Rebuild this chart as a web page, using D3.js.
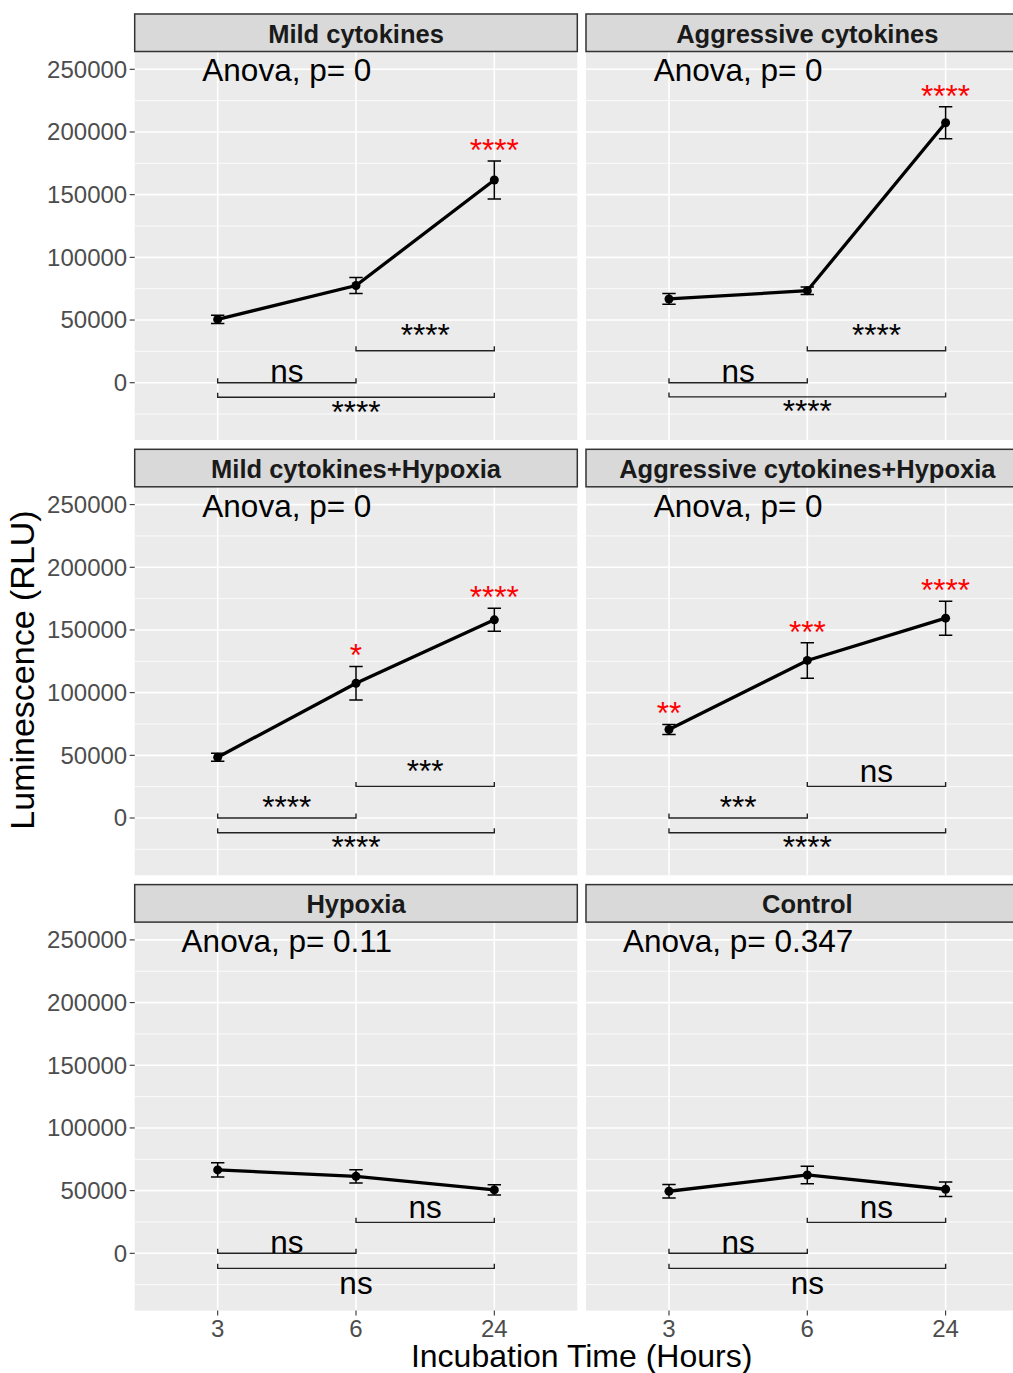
<!DOCTYPE html>
<meta charset="utf-8">
<style>
body { margin: 0; background: #fff; }
text { font-family: "Liberation Sans", Arial, sans-serif; }
</style>
<body>
<svg id="chart" width="1013" height="1373"></svg>
<script src="https://d3js.org/d3.v7.min.js"></script>
<script>

// chart data
var panels = ["Mild cytokines", "Aggressive cytokines", "Mild cytokines+Hypoxia",
              "Aggressive cytokines+Hypoxia", "Hypoxia", "Control"];
var times = ["3", "6", "24"];
var means = [
  [50500, 77500, 161700],
  [66800, 73400, 207400],
  [48500, 107500, 158100],
  [70600, 125700, 159400],
  [66500, 61400, 50600],
  [49500, 62500, 51100]
];
var errors = [
  [3300, 6400, 15200],
  [4300, 3000, 12800],
  [3200, 13400, 9200],
  [4000, 14200, 13600],
  [5700, 5300, 4000],
  [5300, 7000, 5800]
];
var anovaP = ["0", "0", "0", "0", "0.11", "0.347"];
var vsControl = [
  ["", "", "****"],
  ["", "", "****"],
  ["", "*", "****"],
  ["**", "***", "****"],
  ["", "", ""],
  ["", "", ""]
];
// brackets: 3 vs 6, 6 vs 24, 3 vs 24
var pairs = [["3", "6"], ["6", "24"], ["3", "24"]];
var pairLabels = [
  ["ns", "****", "****"],
  ["ns", "****", "****"],
  ["****", "***", "****"],
  ["***", "ns", "****"],
  ["ns", "ns", "ns"],
  ["ns", "ns", "ns"]
];
var pairY = [
  [0, 25500, -11600],
  [0, 25500, -11300],
  [0, 25200, -11800],
  [0, 25200, -11800],
  [0, 24700, -12000],
  [0, 24700, -12000]
];
var yTicks = [0, 50000, 100000, 150000, 200000, 250000];
var yMinor = [-25000, 25000, 75000, 125000, 175000, 225000];
var anovaY = 250000;

var svg = d3.select("#chart");

var panelW = 442.6, gapX = 8.7,
    stripH = 37.5, plotH = 388.5, gapY = 9.3,
    leftX = 134.7, topY = 14;

var labelFont = 31.5;

panels.forEach(function(name, i) {
  var col = i % 2, row = Math.floor(i / 2);
  var x0 = leftX + col * (panelW + gapX);
  var sTop = topY + row * (stripH + plotH + gapY);
  var pTop = sTop + stripH, pBot = pTop + plotH;

  var x = d3.scalePoint().domain(times).range([x0, x0 + panelW]).padding(0.6);
  var y = d3.scaleLinear().domain([-45700, 264200]).range([pBot, pTop]);

  var g = svg.append("g");

  // panel background and grid
  g.append("rect").attr("x", x0).attr("y", pTop).attr("width", panelW).attr("height", plotH)
    .attr("fill", "#EBEBEB");
  g.selectAll(".minor").data(yMinor).enter().append("line")
    .attr("x1", x0).attr("x2", x0 + panelW)
    .attr("y1", function(d) { return y(d); }).attr("y2", function(d) { return y(d); })
    .attr("stroke", "#fff").attr("stroke-width", 0.8);
  g.selectAll(".major").data(yTicks).enter().append("line")
    .attr("x1", x0).attr("x2", x0 + panelW)
    .attr("y1", function(d) { return y(d); }).attr("y2", function(d) { return y(d); })
    .attr("stroke", "#fff").attr("stroke-width", 1.6);
  g.selectAll(".vgrid").data(times).enter().append("line")
    .attr("x1", function(d) { return x(d); }).attr("x2", function(d) { return x(d); })
    .attr("y1", pTop).attr("y2", pBot)
    .attr("stroke", "#fff").attr("stroke-width", 1.6);

  // strip
  g.append("rect").attr("x", x0).attr("y", sTop).attr("width", panelW).attr("height", stripH)
    .attr("fill", "#D9D9D9").attr("stroke", "#333").attr("stroke-width", 1.5);
  g.append("text").attr("x", x0 + panelW / 2).attr("y", sTop + 28.5)
    .attr("text-anchor", "middle").attr("font-size", 25.5).attr("font-weight", "bold")
    .attr("fill", "#1A1A1A").text(name);

  // comparison brackets
  var tipDir = 4.5;
  var labelShift = [-0.5, -4.5, 25.5];
  pairs.forEach(function(p, k) {
    var by = y(pairY[i][k]), xa = x(p[0]), xb = x(p[1]);
    g.append("path")
      .attr("d", "M" + xa + "," + (by - tipDir) + "V" + by + "H" + xb + "V" + (by - tipDir))
      .attr("fill", "none").attr("stroke", "#222").attr("stroke-width", 1.4);
    g.append("text").attr("x", (xa + xb) / 2).attr("y", by + labelShift[k])
      .attr("text-anchor", "middle").attr("font-size", labelFont).attr("fill", "#000")
      .text(pairLabels[i][k]);
  });

  var pts = times.map(function(t, j) { return {t: t, m: means[i][j], e: errors[i][j], s: vsControl[i][j]}; });

  // mean line
  g.append("path").datum(pts)
    .attr("d", d3.line().x(function(d) { return x(d.t); }).y(function(d) { return y(d.m); }))
    .attr("fill", "none").attr("stroke", "#000").attr("stroke-width", 3.3);

  // error bars
  var cap = 6.7;
  pts.forEach(function(d) {
    var cx = x(d.t), yh = y(d.m + d.e), yl = y(d.m - d.e);
    g.append("path")
      .attr("d", "M" + (cx - cap) + "," + yh + "H" + (cx + cap) + "M" + cx + "," + yh + "V" + yl +
                 "M" + (cx - cap) + "," + yl + "H" + (cx + cap))
      .attr("fill", "none").attr("stroke", "#000").attr("stroke-width", 1.5);
  });

  g.selectAll(".pt").data(pts).enter().append("circle")
    .attr("cx", function(d) { return x(d.t); }).attr("cy", function(d) { return y(d.m); })
    .attr("r", 4.5).attr("fill", "#000");

  // significance vs control
  g.selectAll(".sig").data(pts).enter().append("text")
    .attr("x", function(d) { return x(d.t); }).attr("y", function(d) { return y(d.m + d.e); })
    .attr("text-anchor", "middle").attr("font-size", labelFont).attr("fill", "#FF0000")
    .text(function(d) { return d.s; });

  // anova label, centred between 3 and 6
  g.append("text").attr("x", (x("3") + x("6")) / 2).attr("y", y(anovaY) + 12)
    .attr("text-anchor", "middle").attr("font-size", labelFont).attr("fill", "#000")
    .text("Anova, p= " + anovaP[i]);

  // y axis on left column
  if (col === 0) {
    var ya = g.append("g");
    yTicks.forEach(function(v) {
      ya.append("line").attr("x1", x0 - 5).attr("x2", x0).attr("y1", y(v)).attr("y2", y(v))
        .attr("stroke", "#333").attr("stroke-width", 1.1);
      ya.append("text").attr("x", x0 - 7.5).attr("y", y(v) + 8.4)
        .attr("text-anchor", "end").attr("font-size", 24).attr("fill", "#4D4D4D")
        .text(v);
    });
  }

  // x axis on bottom row
  if (row === 2) {
    times.forEach(function(t) {
      g.append("line").attr("x1", x(t)).attr("x2", x(t)).attr("y1", pBot).attr("y2", pBot + 5)
        .attr("stroke", "#333").attr("stroke-width", 1.1);
      g.append("text").attr("x", x(t)).attr("y", pBot + 26.5)
        .attr("text-anchor", "middle").attr("font-size", 24).attr("fill", "#4D4D4D")
        .text(t);
    });
  }
});

// axis titles
svg.append("text").attr("x", leftX + (2 * panelW + gapX) / 2).attr("y", 1367)
  .attr("text-anchor", "middle").attr("font-size", 32).attr("fill", "#000")
  .text("Incubation Time (Hours)");
svg.append("text").attr("transform", "translate(34,670) rotate(-90)")
  .attr("text-anchor", "middle").attr("font-size", 34).attr("fill", "#000")
  .text("Luminescence (RLU)");

</script>
</body>
